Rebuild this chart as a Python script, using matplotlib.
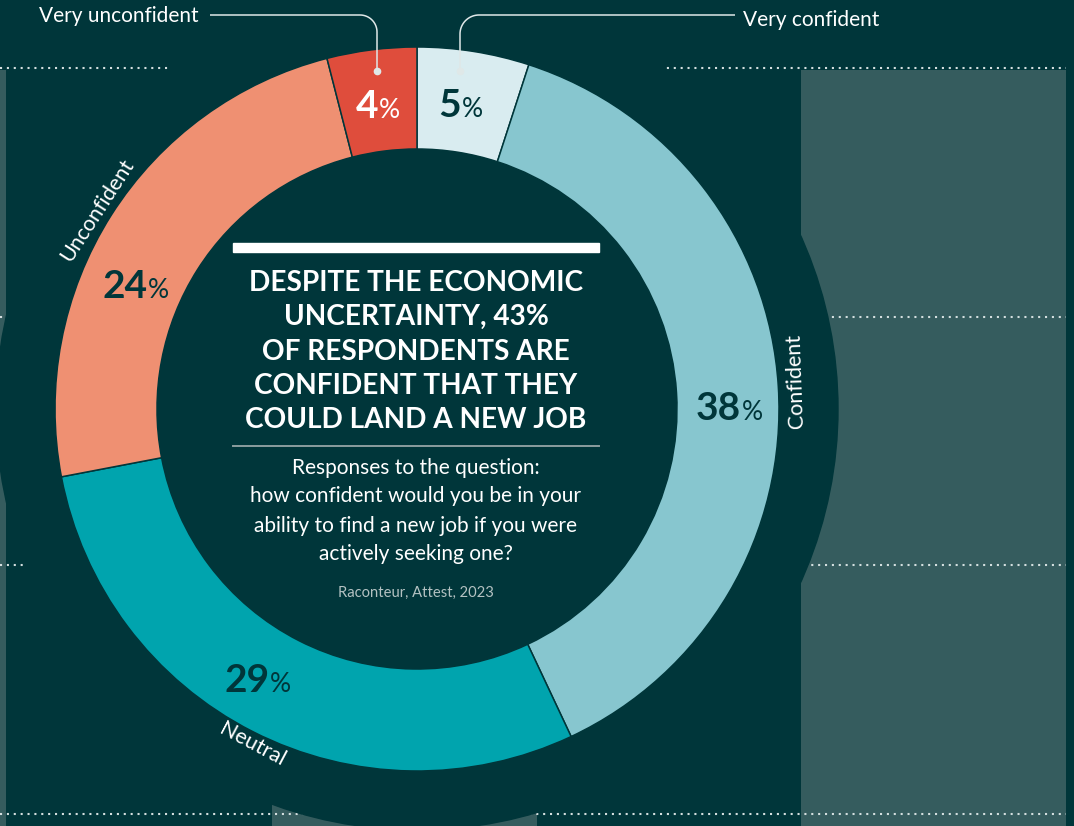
import matplotlib.pyplot as plt
import numpy as np
from matplotlib.patches import Circle, Rectangle

W, H = 1074, 826
BG = '#00363a'
GREY = '#355c5e'
LINE = '#dfe8e8'

# donut data, clockwise from 12 o'clock
categories = ['Very confident', 'Confident', 'Neutral', 'Unconfident', 'Very unconfident']
values = [5, 38, 29, 24, 4]
colors = ['#d9ecf0', '#87c6cf', '#00a4ae', '#ef9072', '#df4d3c']
pct_colors = [BG, BG, BG, BG, 'white']

# page background bars + gridlines that sit behind the donut
bar_x = [-126.5, 404.5, 933.5]
bar_h = [756, 126, 756]
grid_y = [12, 261, 509, 758]

heading = ['DESPITE THE ECONOMIC', 'UNCERTAINTY, 43%', 'OF RESPONDENTS ARE',
           'CONFIDENT THAT THEY', 'COULD LAND A NEW JOB']
subtitle = ['Responses to the question:', 'how confident would you be in your',
            'ability to find a new job if you were', 'actively seeking one?']
source = 'Raconteur, Attest, 2023'

# layout: (angle clockwise from top, radius) for the % labels and ring labels
pct_pos = [(8.6, 295), (91.9, 324), (-152.4, 319), (-67.6, 292), (-7.6, 294)]
ring_lab = {'Confident': (85.8, 379, 92), 'Neutral': (-153.8, 374, -28),
            'Unconfident': (-58.1, 377, 57)}

plt.rcParams['font.family'] = ['Lato', 'DejaVu Sans']

fig = plt.figure(figsize=(W / 100, H / 100), dpi=100)
fig.patch.set_facecolor(BG)
ax = fig.add_axes([0, 0, 1, 1])
ax.set_facecolor(BG)

ax.bar(bar_x, bar_h, width=265, color=GREY, zorder=1)
ax.hlines(grid_y, 0, 1066, colors='#d4dfdf', lw=1.5, linestyles=(0, (1, 2.3)), zorder=2)

cx, cy = 417, H - 409
ax.add_patch(Circle((cx, cy), 421, color=BG, zorder=3))

wedges, _ = ax.pie(values, colors=colors, center=(cx, cy), radius=362, startangle=90,
                   counterclock=False, frame=True,
                   wedgeprops=dict(width=102, edgecolor=BG, linewidth=1.1))
for w in wedges:
    w.set_zorder(4)


def polar(theta, r):
    t = np.radians(theta)
    return cx + r * np.sin(t), cy + r * np.cos(t)


for v, c, (th, r) in zip(values, pct_colors, pct_pos):
    x, y = polar(th, r)
    ax.text(x, y, str(v), color=c, fontsize=28, fontweight='bold', ha='right', va='baseline', zorder=5)
    ax.text(x + 1, y, '%', color=c, fontsize=19, ha='left', va='baseline', zorder=5)

for name, (th, r, rot) in ring_lab.items():
    x, y = polar(th, r)
    ax.text(x, y, name, color='white', fontsize=15.5, rotation=rot, rotation_mode='anchor',
            ha='center', va='center', zorder=5)


def leader(x0, x1, y_line, y_dot, r=17):
    s = np.sign(x1 - x0)
    t = np.linspace(0, np.pi / 2, 20)
    xs = np.r_[x0, x1 - s * r + s * r * np.sin(t), x1]
    ys = np.r_[y_line, y_line + r - r * np.cos(t), y_dot]
    ax.plot(xs, H - ys, color=LINE, lw=1.1, zorder=6, solid_capstyle='butt')
    ax.plot(x1, H - y_dot, 'o', color=LINE, ms=4.5, zorder=6)


leader(210, 377, 15, 71)
leader(735, 460, 15, 71, r=19)
ax.text(199, H - 22, 'Very unconfident', color='white', fontsize=15, ha='right', va='baseline')
ax.text(743, H - 26, 'Very confident', color='white', fontsize=15, ha='left', va='baseline')

# centre text block
ax.add_patch(Rectangle((233, H - 252), 366, 9, color='white', zorder=5))
for i, line in enumerate(heading):
    ax.text(416, H - (291 + 34.25 * i), line, color='white', fontsize=20.2, fontweight='bold',
            ha='center', va='baseline', zorder=5)
ax.plot([233, 599], [H - 446, H - 446], color='#8b9d9e', lw=1.4, zorder=5)
for i, line in enumerate(subtitle):
    ax.text(416, H - (473.5 + 29 * i), line, color='white', fontsize=15,
            ha='center', va='baseline', zorder=5)
ax.text(416, H - 597, source, color='#b4c2c2', fontsize=10.6, ha='center', va='baseline', zorder=5)

ax.set_xlim(0, W)
ax.set_ylim(0, H)
ax.set_aspect('auto')
ax.axis('off')
fig.savefig('out.png', dpi=100, facecolor=BG)
